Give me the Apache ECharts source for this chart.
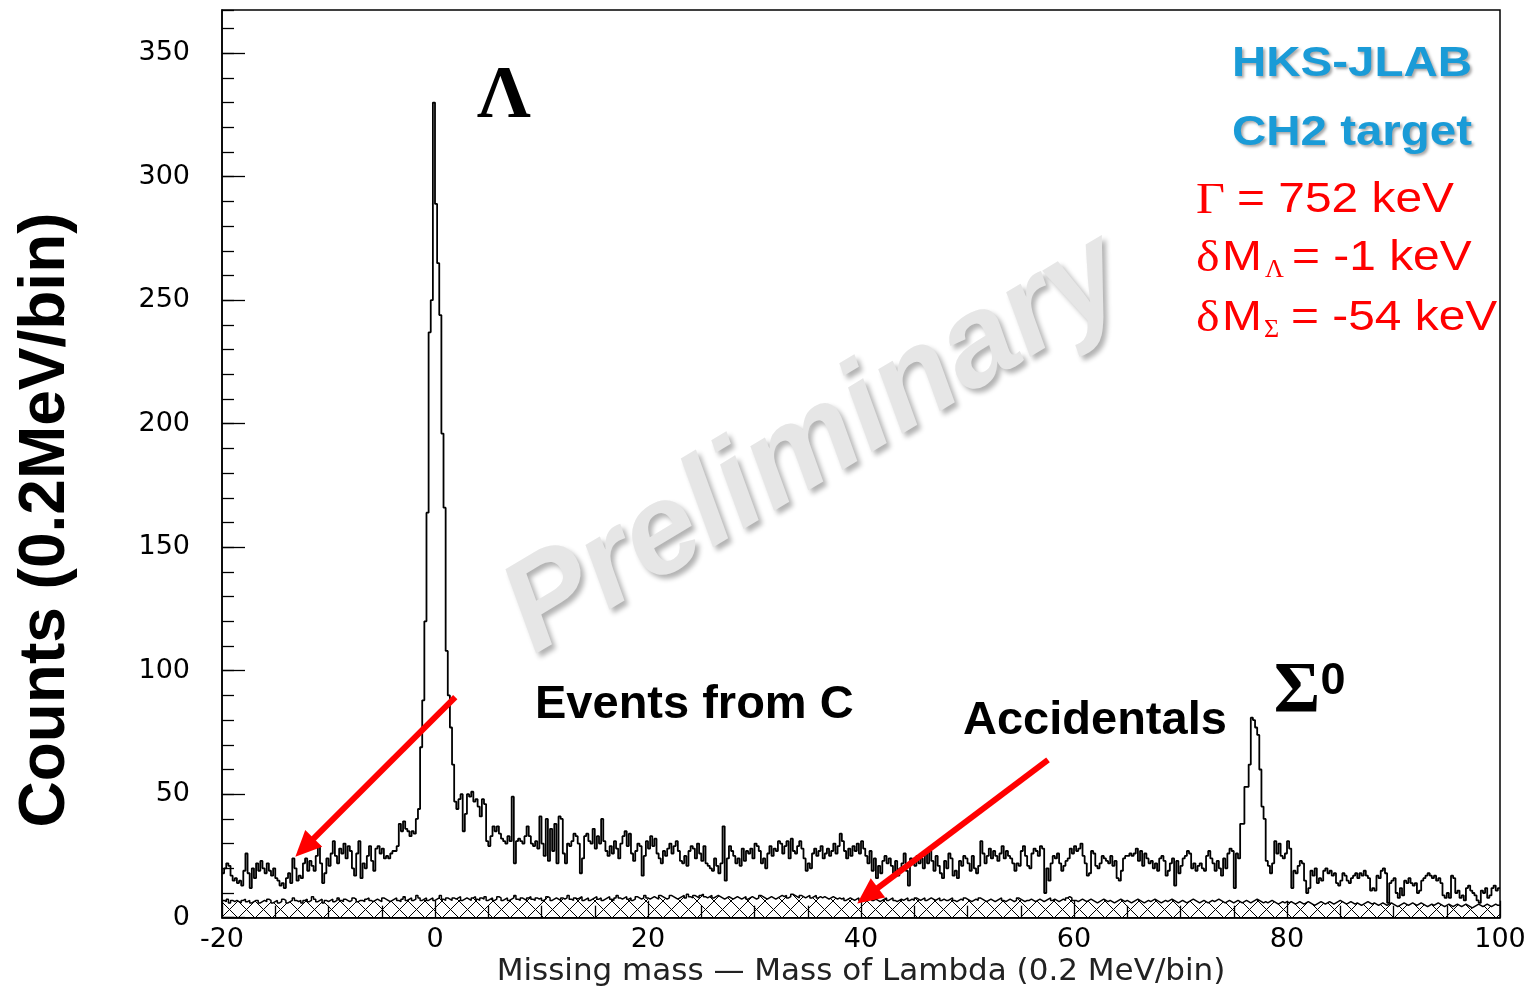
<!DOCTYPE html>
<html><head><meta charset="utf-8">
<script src="https://cdn.jsdelivr.net/npm/echarts@6/dist/echarts.min.js"></script>
<style>html,body{margin:0;padding:0;background:#fff}#c{width:1534px;height:988px}</style>
</head><body><div id="c"></div>
<script>
// ---- data (0.2 MeV bins from -20 to 100) ----
const xMin = -20, xMax = 100, binWidth = 0.2;
const yMin = 0, yMax = 367.5;
const xTickStep = 20, yTickStep = 50;

const countsCH2 = [
18,20,22,21,17,15,16,14,15,13,
19,26,18,12,20,16,22,19,23,20,
18,22,19,17,20,16,15,13,14,12,
16,18,14,24,20,15,17,16,22,24,
19,23,21,19,25,29,22,14,18,24,
21,26,31,25,22,28,26,30,24,29,
27,20,17,26,31,16,22,20,25,29,
23,19,28,29,26,28,24,25,24,26,
27,27,29,38,35,39,36,35,33,35,
34,40,44,69,88,120,164,237,250,330,
289,265,244,196,166,108,90,77,62,47,
44,48,50,35,42,50,49,51,47,48,
45,41,48,46,31,29,33,37,35,37,
34,32,31,30,33,31,49,22,31,32,
31,30,33,37,33,30,29,31,28,41,
30,25,40,23,36,27,38,22,41,40,
26,22,30,29,31,34,33,30,18,24,
33,34,31,30,36,28,33,30,40,31,
27,25,29,26,31,28,24,30,33,35,
29,34,26,23,27,30,29,17,25,31,
28,33,29,32,26,24,22,27,25,28,
30,26,29,31,27,23,22,25,21,27,
29,28,24,30,26,23,29,22,21,20,
19,24,21,18,22,37,15,24,29,27,
25,22,24,21,28,23,27,26,28,24,
30,29,27,22,24,20,26,29,25,28,
27,31,30,26,29,31,24,32,27,26,
29,31,28,24,19,22,20,26,28,25,
27,29,24,26,28,25,27,30,26,29,
34,31,27,24,28,25,29,27,30,26,
31,28,25,22,27,19,24,16,21,18,
23,25,22,24,21,18,23,17,20,22,
26,19,13,24,23,21,25,22,24,20,
26,22,27,23,19,25,21,18,16,23,
20,26,24,17,19,16,23,21,25,24,
22,19,25,20,18,21,31,26,22,25,
28,24,27,25,23,26,29,24,27,25,
24,22,19,22,21,27,29,25,21,20,
26,28,27,25,29,28,10,20,15,22,
25,24,26,22,19,21,23,24,28,26,
29,27,28,30,25,22,17,18,27,26,
21,20,22,25,24,23,22,25,21,23,
16,15,19,24,25,25,26,25,26,28,
23,27,21,26,24,22,23,20,22,19,
24,25,23,17,19,22,24,13,23,18,
21,24,25,27,26,20,22,19,21,22,
20,19,25,27,24,22,19,23,20,17,
24,20,26,28,27,12,26,24,38,38,
53,53,62,81,80,77,74,60,45,40,
23,21,18,22,31,26,30,25,24,26,
31,28,12,19,18,21,23,22,15,10,
12,19,17,20,14,16,15,19,20,18,
19,17,18,14,13,15,18,17,15,14,
16,17,18,16,18,17,19,17,16,11,
12,11,17,16,19,20,18,6,14,15,
16,10,8,12,9,15,14,16,14,13,
14,10,11,15,16,17,18,17,16,17,
15,16,14,9,8,10,8,17,16,10,
11,8,9,7,12,13,11,10,9,7,
6,11,10,12,8,9,12,13,11,12
];

const accidentals = [
7,6.5,7.5,6,7,6.5,7,6.5,6,7,7.5,6.5,7,6,6.5,7,7,6,6.5,7,
6.5,7.5,7,6,6.5,7,6,6.5,7.5,7,6,6.5,7,8,7,6.5,7,6,7,7.5,
6.5,7,8.5,7.5,6.5,7,7.5,6,7,6.5,7,7.5,6.5,7,8,7,6.5,7.5,7,6.5,
7,8,7.5,6.5,7,7,6.5,7.5,8,7,6.5,7,7.5,7,6.5,8,7.5,7,6.5,7,
7.5,8,7,6.5,7.5,8.5,7,7.5,8,7,7.5,9,8,7,7.5,8,7,7.5,8,7,
7.5,8,9,7.5,7,8,7.5,7,8,7.5,8,8.5,7,7.5,8,7.5,7,8,8.5,7.5,
7,8,7.5,8.5,7,7.5,8,7,7.5,8.5,8,7,7.5,8,7,7.5,8,9,7.5,7,
8,7.5,7,8,8.5,7.5,7,8,7.5,8,7,7.5,8.5,8,7,7.5,8,7.5,7,8,
7.5,8,9,7.5,7,8,7.5,8,8.5,7,7.5,8,7,7.5,8,8.5,7.5,8,7,7.5,
8,8.5,7.5,7,8,9,8,7.5,8,8.5,7.5,8,7,7.5,8.5,8,7.5,8,9,8,
7.5,8,8.5,8,7.5,9,8.5,8,7.5,8,9,8.5,8,7.5,8,8.5,9,8,9.5,8.5,
8,9,8.5,8,9,9.5,8.5,8,8.5,9,8,8.5,9,8.5,8,7.5,8,8.5,8,7.5,
8,8.5,8,7.5,8,8.5,7.5,8,8.5,8,7.5,8,9,8.5,8,7.5,8,8.5,8,7.5,
8,8.5,9,8.5,9,8,8.5,9.5,9,8.5,8,9,8.5,8,8.5,9,8,8.5,9,8,
8.5,8,8.5,8,7.5,8,8.5,8,7.5,8,7.5,8,7,7.5,8,7.5,7,7.5,8,7,
7.5,7,6.5,7.5,8,7,7.5,7,6.5,7,7.5,8,7,7.5,8,7,6.5,7,7.5,7,
7.5,8,7,7.5,7,8,7.5,7,7.5,8,7,7.5,8,7.5,7,7.5,8,7,7.5,7,
7,7.5,8,7,6.5,7,7.5,7,8,7.5,7,6.5,7,7.5,7,8,7.5,7,6.5,7,
7.5,7,6.5,7,7.5,8,7,6.5,7,7.5,7,6.5,7,8,7.5,7,6.5,7,7,7.5,
7,6.5,7,7.5,7,6.5,7,7.5,8,7,7.5,7,6.5,7,7.5,7,8,8.5,8,7,
7,6.5,7,7.5,7,6.5,7,7.5,7,6.5,6,6.5,7,7.5,7,6.5,7,6.5,6,6.5,
7,7.5,7,6.5,7,6.5,6,6.5,7,7.5,7,6.5,6,6.5,7,6.5,7,7.5,7,6.5,
6,6.5,7,6.5,7,7.5,7,6.5,6,6.5,7,6.5,6,6.5,7,7.5,7,6.5,6,6.5,
7,6.5,6,6.5,7,6.5,7,7.5,7,6.5,6,6.5,7,6.5,6,6.5,7,6.5,6,6.5,
7,6.5,6,6.5,7,7.5,7,6.5,6,6.5,6,6.5,7,6.5,6,5.5,6,6.5,6,6.5,
6,6.5,6,5.5,6,6.5,6,5.5,6,6.5,6,5.5,5,5.5,6,6.5,6,5.5,6,6.5,
6,5.5,6,6.5,7,6.5,6,5.5,6,6.5,6,5.5,6,5.5,5,5.5,6,6.5,6,5.5,
6,5.5,5,5.5,6,5.5,5,5.5,6,5.5,5,4.5,5,5.5,6,5.5,5,5.5,6,5.5,
5,5.5,6,5.5,5,4.5,5,5.5,5,5.5,6,5.5,5,4.5,5,5.5,5,4.5,5,5.5,
5,4.5,5,5.5,5,4.5,4,4.5,5,5.5,5,4.5,5,5.5,5,4.5,5,5.5,5,5
];

// arrows: [start(x, counts), end(x, counts)] in data units
const arrowEventsFromC = [[1.9, 89.3], [-12.25, 28.4]];
const arrowAccidentals = [[57.56, 63.9], [40.62, 8.9]];

// ---- build step data (left bin edges + closing edge) ----
function stepData(vals) {
  const d = vals.map((v, i) => [+(xMin + i * binWidth).toFixed(1), v]);
  d.push([xMax, vals[vals.length - 1]]);
  return d;
}

// cross-hatch pattern for accidentals
const hatch = document.createElement('canvas');
hatch.width = 17; hatch.height = 17;
const hg = hatch.getContext('2d');
hg.strokeStyle = '#000'; hg.lineWidth = 1;
hg.beginPath(); hg.moveTo(0, 0); hg.lineTo(17, 17); hg.moveTo(17, 0); hg.lineTo(0, 17); hg.stroke();

const chart = echarts.init(document.getElementById('c'), null, {renderer: 'canvas'});
const SANS = '"Liberation Sans", Arial, sans-serif';
const SERIF = '"Liberation Serif", "Times New Roman", serif';
const TICKF = '"DejaVu Sans", sans-serif';

function txt(x, y, text, font, fill, align, extra) {
  return Object.assign({
    type: 'text', x: x, y: y, z: 50,
    style: {text: text, font: font, fill: fill, align: align || 'left', textAlign: align || 'left',
            verticalAlign: 'middle', textVerticalAlign: 'middle'}
  }, extra || {});
}
const shadow = {textShadowColor: 'rgba(0,0,0,0.35)', textShadowBlur: 3, textShadowOffsetX: 2, textShadowOffsetY: 2};

const redF = '42px ' + SANS, redS = '44px ' + SERIF, subF = '26px ' + SERIF;
const sx = {scaleX: 1.14};

const option = {
  animation: false,
  backgroundColor: '#fff',
  grid: {left: 222, top: 10, width: 1278, height: 907.7, show: true, borderColor: '#000', borderWidth: 1.5},
  xAxis: {
    type: 'value', min: xMin, max: xMax, interval: xTickStep,
    axisLine: {show: true, onZero: false, lineStyle: {color: '#000', width: 1.5}},
    axisTick: {show: true, inside: true, length: 17, lineStyle: {color: '#000', width: 1.3}},
    minorTick: {show: true, splitNumber: 4, length: 12, lineStyle: {color: '#000', width: 1.3}},
    splitLine: {show: false},
    axisLabel: {fontFamily: TICKF, fontSize: 27, color: '#000', margin: 9}
  },
  yAxis: [{
    type: 'value', min: yMin, max: yMax, interval: yTickStep, position: 'left',
    axisLine: {show: true, onZero: false, lineStyle: {color: '#000', width: 1.5}},
    axisTick: {show: true, inside: true, length: 23, lineStyle: {color: '#000', width: 1.3}},
    splitLine: {show: false},
    axisLabel: {fontFamily: TICKF, fontSize: 27, color: '#000', margin: 32, showMaxLabel: false,
      formatter: v => (v % yTickStep === 0 ? String(v) : '')}
  }, {
    type: 'value', min: yMin, max: yMax, interval: 10, position: 'left', offset: 0,
    axisLine: {show: false, onZero: false},
    axisTick: {show: true, inside: true, length: 12, lineStyle: {color: '#000', width: 1.3}},
    splitLine: {show: false}, axisLabel: {show: false}
  }],
  series: [{
    name: 'Accidentals', type: 'line', step: 'end', data: stepData(accidentals),
    symbol: 'none', z: 2, silent: true,
    lineStyle: {color: '#000', width: 1.5},
    areaStyle: {color: {image: hatch, repeat: 'repeat'}, opacity: 1, origin: 'start'}
  }, {
    name: 'CH2', type: 'line', step: 'end', data: stepData(countsCH2),
    symbol: 'none', z: 3, silent: true,
    lineStyle: {color: '#000', width: 1.8},
    markLine: {
      silent: true, animation: false, symbol: ['none', 'triangle'], symbolSize: [24, 26],
      label: {show: false}, emphasis: {disabled: true},
      lineStyle: {color: '#ff0000', width: 6, type: 'solid', opacity: 1},
      data: [
        [{coord: arrowEventsFromC[0]}, {coord: arrowEventsFromC[1]}],
        [{coord: arrowAccidentals[0]}, {coord: arrowAccidentals[1]}]
      ]
    }
  }],
  graphic: [
    // watermark
    {type: 'text', x: 815, y: 445, rotation: 31 * Math.PI / 180, z: 0,
     style: Object.assign({text: 'Preliminary', font: 'italic bold 128px ' + SANS, fill: '#e6e6e6',
       align: 'center', textAlign: 'center', verticalAlign: 'middle', textVerticalAlign: 'middle'},
       {textShadowColor: 'rgba(0,0,0,0.3)', textShadowBlur: 5, textShadowOffsetX: 4, textShadowOffsetY: 4})},
    txt(46, 520, 'Counts (0.2MeV/bin)', 'bold 64px ' + SANS, '#000', 'center', {rotation: Math.PI / 2}),
    txt(861, 972, 'Missing mass \u2014 Mass of Lambda (0.2 MeV/bin)', '31px ' + TICKF, '#222', 'center'),
    txt(504, 98, '\u039B', 'bold 75px ' + SERIF, '#000', 'center'),
    txt(1297, 693, '\u03A3', 'bold 71px ' + SERIF, '#000', 'center'),
    txt(1333, 682, '0', 'bold 45px ' + SANS, '#000', 'center'),
    txt(535, 705, 'Events from C', 'bold 47px ' + SANS, '#000', 'left'),
    txt(963, 721, 'Accidentals', 'bold 47px ' + SANS, '#000', 'left'),
    (function () { const t = txt(1472, 64, 'HKS-JLAB', 'bold 42px ' + SANS, '#1a9bd7', 'right', {scaleX: 1.13}); Object.assign(t.style, shadow); return t; })(),
    (function () { const t = txt(1472, 133, 'CH2 target', 'bold 42px ' + SANS, '#1a9bd7', 'right', {scaleX: 1.13}); Object.assign(t.style, shadow); return t; })(),
    // red fit results
    txt(1196, 201, '\u0393', redS, '#ff0000', 'left', sx),
    txt(1237, 200, '= 752 keV', redF, '#ff0000', 'left', sx),
    txt(1196, 259, '\u03B4', redS, '#ff0000', 'left', sx),
    txt(1222, 258, 'M', redF, '#ff0000', 'left', sx),
    txt(1265, 270, '\u039B', subF, '#ff0000', 'left'),
    txt(1292, 258, '= -1 keV', redF, '#ff0000', 'left', sx),
    txt(1196, 319, '\u03B4', redS, '#ff0000', 'left', sx),
    txt(1222, 318, 'M', redF, '#ff0000', 'left', sx),
    txt(1264, 330, '\u03A3', subF, '#ff0000', 'left'),
    txt(1291, 318, '= -54 keV', redF, '#ff0000', 'left', sx)
  ]
};
chart.setOption(option);
</script>
</body></html>
